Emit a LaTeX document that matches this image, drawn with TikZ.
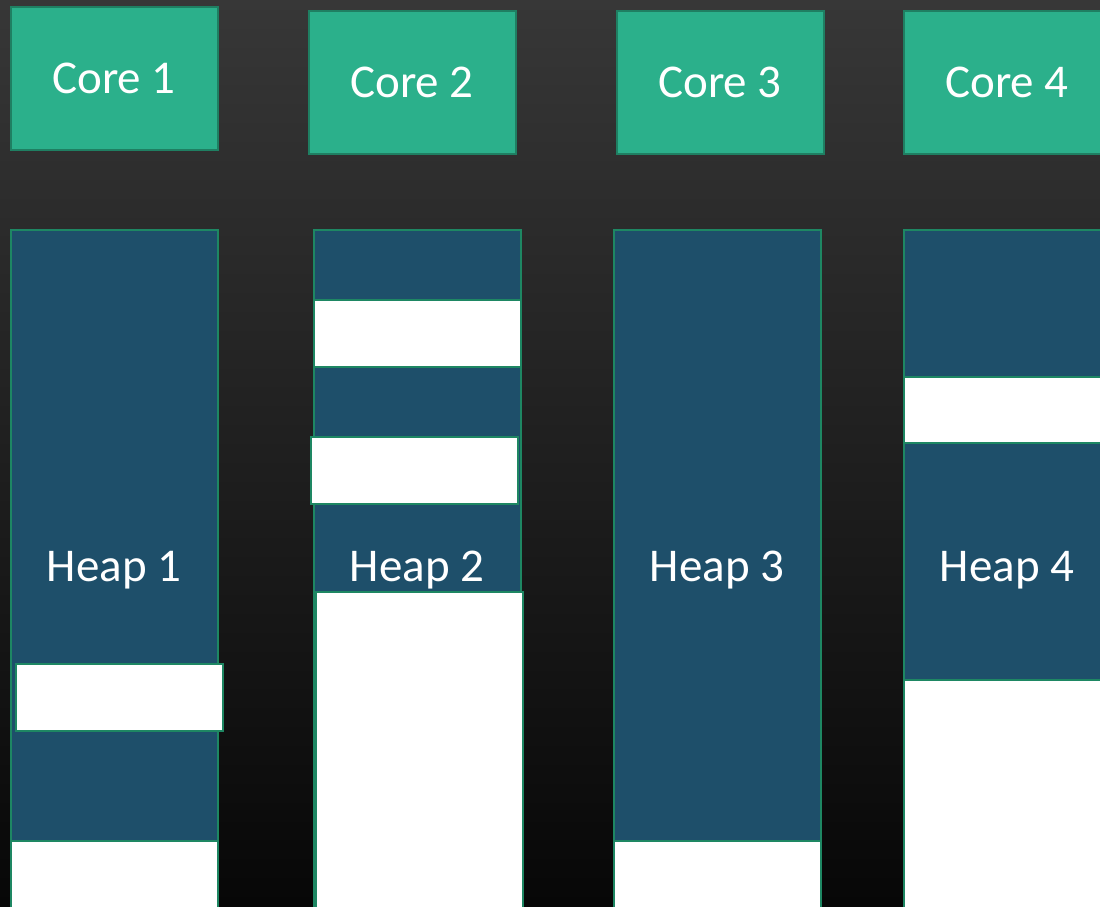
\documentclass[tikz,border=0pt]{standalone}
\usepackage{fontspec}
\setmainfont{Carlito}
\definecolor{coregreen}{HTML}{2BB08B}
\definecolor{coreedge}{HTML}{1F7F62}
\definecolor{heapblue}{HTML}{1E4F6A}
\definecolor{heapedge}{HTML}{1E8763}
\definecolor{bgtop}{HTML}{373737}
\definecolor{bgbot}{HTML}{070707}
\tikzset{
  corebox/.style={draw=coreedge, line width=2pt, fill=coregreen, text=white, minimum width=207pt, minimum height=143pt, inner sep=0pt, font=\fontsize{47}{56}\selectfont},
  heapbox/.style={draw=heapedge, line width=2pt, fill=heapblue, text=white, minimum width=207pt, minimum height=680pt, inner sep=0pt, font=\fontsize{47}{56}\selectfont},
  freeblk/.style={draw=heapedge, line width=2pt, fill=white, inner sep=0pt}
}
\begin{document}
\begin{tikzpicture}[x=1pt,y=-1pt]
\useasboundingbox (0,0) rectangle (1100,906);
\clip (0,0) rectangle (1100,906);
\shade[top color=bgtop, bottom color=bgbot] (0,0) rectangle (1100,906);
% cores
\node[corebox] (c1) at (114,78) {Core 1};
\node[corebox] (c2) at (412,82.5) {Core 2};
\node[corebox] (c3) at (720,82.5) {Core 3};
\node[corebox] (c4) at (1007,82.5) {Core 4};
% heaps
\node[heapbox] (h1) at (114,570) {\raisebox{-3pt}{Heap 1}};
\node[heapbox] (h2) at (417,570) {\raisebox{-3pt}{Heap 2}};
\node[heapbox] (h3) at (717,570) {\raisebox{-3pt}{Heap 3}};
\node[heapbox] (h4) at (1007,570) {\raisebox{-3pt}{Heap 4}};
% free blocks
\node[freeblk, minimum width=207pt, minimum height=67pt] (f1a) at (119.5,697.5) {};
\node[freeblk, minimum width=207pt, minimum height=70pt] (f1b) at (114,876) {};
\node[freeblk, minimum width=207pt, minimum height=67pt] (f2a) at (417,333.5) {};
\node[freeblk, minimum width=207pt, minimum height=67pt] (f2b) at (414,470.5) {};
\node[freeblk, minimum width=207pt, minimum height=320pt] (f2c) at (419.5,752) {};
\node[freeblk, minimum width=207pt, minimum height=70pt] (f3a) at (717,876) {};
\node[freeblk, minimum width=207pt, minimum height=66pt] (f4a) at (1007,410) {};
\node[freeblk, minimum width=207pt, minimum height=232pt] (f4b) at (1007,796) {};
\end{tikzpicture}
\end{document}
